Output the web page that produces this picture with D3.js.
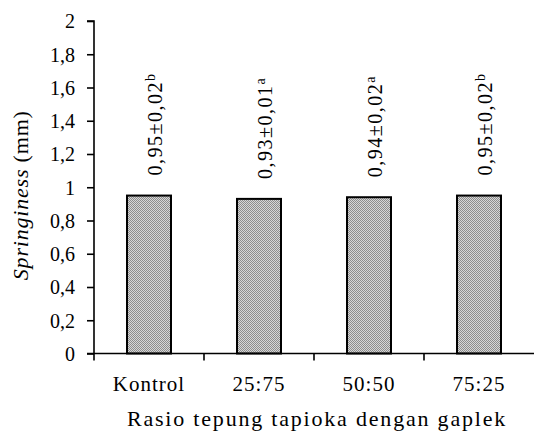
<!DOCTYPE html>
<html>
<head>
<meta charset="utf-8">
<script src="https://cdn.jsdelivr.net/npm/d3@7"></script>
</head>
<body style="margin:0">
<script>
// Springiness per formulation
const categories = ["Kontrol", "25:75", "50:50", "75:25"];
const values = [0.95, 0.93, 0.94, 0.95];
const errors = [0.02, 0.01, 0.02, 0.02];
const letters = ["b", "a", "a", "b"];
const yTicks = [0, 0.2, 0.4, 0.6, 0.8, 1, 1.2, 1.4, 1.6, 1.8, 2];

const W = 534, H = 431;
const margin = { left: 94, right: 0, top: 21, bottom: 79 };
const FONT = "Times New Roman, Liberation Serif, serif";

const svg = d3.select("body").append("svg")
  .attr("width", W).attr("height", H)
  .attr("font-family", FONT)
  .style("display", "block");

// dotted grey fill for the bars
const defs = svg.append("defs");
const pat = defs.append("pattern")
  .attr("id", "dots").attr("patternUnits", "userSpaceOnUse")
  .attr("width", 2).attr("height", 2);
pat.append("rect").attr("width", 2).attr("height", 2).attr("fill", "#d6d6d6");
pat.append("rect").attr("width", 1).attr("height", 1).attr("fill", "#8c8c8c");
pat.append("rect").attr("x", 1).attr("y", 1).attr("width", 1).attr("height", 1).attr("fill", "#8c8c8c");

const x = d3.scaleBand()
  .domain(categories)
  .range([margin.left, W - margin.right])
  .paddingInner(0.6).paddingOuter(0.3);

const y = d3.scaleLinear()
  .domain([0, 2])
  .range([H - margin.bottom + 1.5, margin.top]);

const fmt = v => String(v).replace(".", ",");

// y axis
const yAxis = svg.append("g")
  .attr("transform", `translate(${margin.left},0)`)
  .call(d3.axisLeft(y).tickValues(yTicks).tickSize(7).tickPadding(12).tickFormat(fmt))
  .attr("font-family", FONT)
  .attr("font-size", 20);
yAxis.select(".domain").attr("stroke", "#000").attr("stroke-width", 1.6)
  .attr("d", `M-7,${y(2)}H0V${y(0)}`);
yAxis.selectAll(".tick line").attr("stroke", "#000").attr("stroke-width", 1.6);
yAxis.selectAll(".tick text")
  .attr("font-family", FONT)
  .attr("fill", "#000")
  .attr("dy", "0.34em");

// bars
svg.append("g").selectAll("rect")
  .data(values)
  .join("rect")
  .attr("x", (d, i) => x(categories[i]))
  .attr("y", d => y(d))
  .attr("width", x.bandwidth())
  .attr("height", d => y(0) - y(d))
  .attr("fill", "url(#dots)")
  .attr("stroke", "#000")
  .attr("stroke-width", 2);

// x axis: line with ticks at the category boundaries
const step = x.step();
const xBase = y(0);
const boundaries = d3.range(categories.length).map(i => margin.left + i * step);
svg.append("line")
  .attr("x1", margin.left - 7).attr("x2", W)
  .attr("y1", xBase).attr("y2", xBase)
  .attr("stroke", "#000").attr("stroke-width", 1.6);
svg.append("g").selectAll("line")
  .data(boundaries)
  .join("line")
  .attr("x1", d => d).attr("x2", d => d)
  .attr("y1", xBase).attr("y2", xBase + 7)
  .attr("stroke", "#000").attr("stroke-width", 1.6);

// category labels
svg.append("g").selectAll("text")
  .data(categories)
  .join("text")
  .attr("font-family", FONT)
  .attr("x", d => x(d) + x.bandwidth() / 2)
  .attr("y", 391)
  .attr("text-anchor", "middle")
  .attr("font-size", 21)
  .attr("letter-spacing", 1)
  .text(d => d);

// value labels above the bars, rotated
const lbl = svg.append("g").selectAll("text")
  .data(values)
  .join("text")
  .attr("font-family", FONT)
  .attr("transform", (d, i) =>
    `translate(${x(categories[i]) + x.bandwidth() / 2 + 13},${y(d) - 20}) rotate(-90)`)
  .attr("font-size", 20)
  .attr("letter-spacing", 1.5);
lbl.append("tspan").text((d, i) => `${fmt(d.toFixed(2))}±${fmt(errors[i].toFixed(2))}`);
lbl.append("tspan")
  .attr("font-size", 14).attr("dy", -7)
  .text((d, i) => letters[i]);

// axis titles
svg.append("text")
  .attr("font-family", FONT)
  .attr("x", (margin.left + W) / 2 + 3)
  .attr("y", 426)
  .attr("text-anchor", "middle")
  .attr("font-size", 22)
  .attr("letter-spacing", 1.8)
  .text("Rasio tepung tapioka dengan gaplek");

const yt = svg.append("text")
  .attr("font-family", FONT)
  .attr("transform", `translate(28,${(y(0) + y(2)) / 2 + 8}) rotate(-90)`)
  .attr("text-anchor", "middle")
  .attr("font-size", 22)
  .attr("letter-spacing", 0.8);
yt.append("tspan").attr("font-style", "italic").text("Springiness");
yt.append("tspan").text(" (mm)");
</script>
</body>
</html>
